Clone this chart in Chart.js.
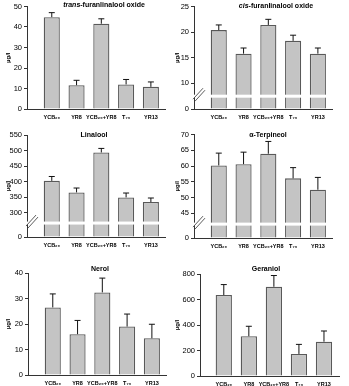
<!DOCTYPE html>
<html>
<head>
<meta charset="utf-8">
<script src="https://cdn.jsdelivr.net/npm/chart.js@4.4.1/dist/chart.umd.min.js"></script>
<style>
html, body { margin: 0; padding: 0; background: #fff; }
#wrap { position: relative; width: 349px; height: 386px; overflow: hidden; }
#wrap canvas { position: absolute; }
</style>
</head>
<body>
<div id="wrap"></div>
<script>
// categories (x axis)
const categories = ['YCB₂₀', 'YR8', 'YCB₂₀+YR8', 'T₇₃', 'YR13'];

// trans-furanlinalool oxide
const transValues = [44.8, 11.6, 41.6, 12.0, 10.8];
const transErrors = [2.2, 2.4, 2.4, 2.4, 2.4];
const transTicks = [0, 10, 20, 30, 40, 50];

// cis-furanlinalool oxide
const cisValues = [20.4, 15.8, 21.4, 18.3, 15.8];
const cisErrors = [1.0, 1.1, 1.1, 1.1, 1.1];
const cisTicks = [0, 10, 15, 20, 25];

// linalool
const linaloolValues = [403, 366, 494, 350, 335];
const linaloolErrors = [14, 14, 13, 14, 13];
const linaloolTicks = [0, 300, 350, 400, 450, 500, 550];

// alpha-terpineol
const terpineolValues = [60.2, 60.6, 63.9, 56.1, 52.5];
const terpineolErrors = [3.9, 3.8, 3.9, 3.4, 3.9];
const terpineolTicks = [0, 45, 50, 55, 60, 65, 70];

// nerol
const nerolValues = [26.5, 16.0, 32.4, 19.0, 14.4];
const nerolErrors = [5.3, 5.4, 5.6, 4.9, 5.5];
const nerolTicks = [0, 10, 20, 30, 40];

// geraniol
const geraniolValues = [635, 312, 700, 173, 269];
const geraniolErrors = [82, 78, 88, 75, 84];
const geraniolTicks = [0, 200, 400, 600, 800];

const FONT = 'Arial, "Liberation Sans", Helvetica, sans-serif';
const wrap = document.getElementById('wrap');

// broken axes: values above the break are shifted down by `shift`
function toAxis(v, shift) { return (shift && v !== 0) ? v - shift : v; }
function fromAxis(t, shift) { return (shift && t !== 0) ? Math.round((t + shift) * 100) / 100 : t; }

const panelPlugin = {
    id: 'panelExtras',
    afterDatasetsDraw(chart) {
        const p = chart.options.plugins.panelExtras;
        const ctx = chart.ctx;
        const ys = chart.scales.y;
        const area = chart.chartArea;
        const meta = chart.getDatasetMeta(0);

        // white break band and // marks
        if (p.shift) {
            const yb = ys.getPixelForValue(p.band);
            ctx.save();
            ctx.fillStyle = '#fff';
            ctx.fillRect(area.left - 1, yb - 1.5, area.right - area.left + 1, 3);
            ctx.strokeStyle = '#333';
            ctx.lineWidth = 0.8;
            ctx.beginPath();
            ctx.moveTo(area.left - 1, yb + 3);
            ctx.lineTo(area.left + 9, yb - 8);
            ctx.moveTo(area.left + 1, yb + 5);
            ctx.lineTo(area.left + 11, yb - 6);
            ctx.stroke();
            ctx.restore();
        }

        // upper error bars
        ctx.save();
        ctx.strokeStyle = '#111';
        ctx.lineWidth = 1;
        meta.data.forEach((bar, i) => {
            const v = p.values[i] + p.errors[i];
            const yTop = ys.getPixelForValue(toAxis(v, p.shift));
            ctx.beginPath();
            ctx.moveTo(bar.x, bar.y);
            ctx.lineTo(bar.x, yTop);
            ctx.moveTo(bar.x - 3, yTop);
            ctx.lineTo(bar.x + 3, yTop);
            ctx.stroke();
        });
        ctx.restore();

        // title (first part italic)
        ctx.save();
        ctx.fillStyle = '#000';
        ctx.textBaseline = 'middle';
        const fItal = 'italic bold 7px ' + FONT;
        const fBold = 'bold 7px ' + FONT;
        ctx.font = fItal;
        const w1 = ctx.measureText(p.titleItalic).width;
        ctx.font = fBold;
        const w2 = ctx.measureText(p.title).width;
        let x = p.titleX - (w1 + w2) / 2;
        const y = area.top + p.titleDy;
        ctx.textAlign = 'left';
        if (p.titleItalic) {
            ctx.font = fItal;
            ctx.fillText(p.titleItalic, x, y);
            x += w1;
        }
        ctx.font = fBold;
        ctx.fillText(p.title, x, y);
        ctx.restore();
    }
};

function makePanel(def) {
    const cns = document.createElement('canvas');
    cns.width = def.w;
    cns.height = def.h;
    cns.style.left = def.x + 'px';
    cns.style.top = def.y + 'px';
    wrap.appendChild(cns);
    const shift = def.shift || 0;
    const tickVals = def.ticks.map(v => toAxis(v, shift));

    new Chart(cns.getContext('2d'), {
        type: 'bar',
        data: {
            datasets: [{
                data: def.values.map((v, i) => ({ x: i + 1, y: toAxis(v, shift) })),
                backgroundColor: '#c4c4c4',
                borderColor: '#595959',
                borderWidth: 1.3,
                barPercentage: 0.65,
                categoryPercentage: 1
            }]
        },
        options: {
            responsive: false,
            animation: false,
            devicePixelRatio: 1,
            layout: { padding: { left: 0, top: def.area.top, right: def.w - def.area.right, bottom: 0 } },
            plugins: {
                legend: { display: false },
                tooltip: { enabled: false },
                title: { display: false },
                panelExtras: {
                    values: def.values, errors: def.errors, shift: shift, band: def.band,
                    title: def.title, titleItalic: def.titleItalic || '',
                    titleX: def.titleX, titleDy: def.titleDy
                }
            },
            scales: {
                x: {
                    type: 'linear',
                    offset: false,
                    min: def.xMin, max: def.xMax,
                    grid: { display: false, drawTicks: false, offset: false },
                    border: { display: true, color: '#333', width: 1 },
                    ticks: {
                        autoSkip: false, maxRotation: 0, minRotation: 0, padding: 5,
                        color: '#000',
                        font: { family: FONT, size: 5.5, weight: 'bold' },
                        callback: v => categories[Math.round(v) - 1]
                    },
                    afterBuildTicks: s => { s.ticks = categories.map((c, i) => ({ value: i + 1 })); },
                    afterFit: s => { s.height = def.h - def.area.bottom; }
                },
                y: {
                    min: tickVals[0], max: tickVals[tickVals.length - 1],
                    grid: { display: true, drawOnChartArea: false, drawTicks: true, tickLength: 3, color: '#333' },
                    border: { display: true, color: '#333', width: 1 },
                    ticks: {
                        padding: 2, color: '#000',
                        font: { family: FONT, size: 7.5 },
                        callback: v => String(fromAxis(v, shift))
                    },
                    afterBuildTicks: s => { s.ticks = tickVals.map(v => ({ value: v })); },
                    title: {
                        display: true, text: 'µg/l', color: '#000',
                        font: { family: FONT, size: 6, weight: 'bold' },
                        padding: { top: def.labelPad, bottom: 0 }
                    },
                    afterFit: s => { s.width = def.area.left; }
                }
            }
        },
        plugins: [panelPlugin]
    });
}

makePanel({
    x: 0, y: 0, w: 174, h: 128, area: { left: 27, top: 6, right: 165, bottom: 109 },
    xMin: 0, xMax: 5.57, values: transValues, errors: transErrors, ticks: transTicks,
    titleItalic: 'trans', title: '-furanlinalool oxide', titleX: 104, titleDy: -1.5, labelPad: 4.5
});
makePanel({
    x: 174, y: 0, w: 175, h: 128, area: { left: 20, top: 5, right: 158, bottom: 109 },
    xMin: 0, xMax: 5.57, values: cisValues, errors: cisErrors, ticks: cisTicks,
    shift: 5, band: 2.5,
    titleItalic: 'cis', title: '-furanlinalool oxide', titleX: 102, titleDy: 0, labelPad: 0
});
makePanel({
    x: 0, y: 128, w: 174, h: 128, area: { left: 27, top: 7, right: 165, bottom: 109 },
    xMin: 0, xMax: 5.57, values: linaloolValues, errors: linaloolErrors, ticks: linaloolTicks,
    shift: 223, band: 44.7,
    title: 'Linalool', titleX: 94, titleDy: 0, labelPad: 4.5
});
makePanel({
    x: 174, y: 128, w: 175, h: 128, area: { left: 20, top: 6, right: 158, bottom: 110 },
    xMin: 0, xMax: 5.57, values: terpineolValues, errors: terpineolErrors, ticks: terpineolTicks,
    shift: 37.2, band: 4.4,
    title: 'α-Terpineol', titleX: 94, titleDy: 1, labelPad: 0
});
makePanel({
    x: 0, y: 256, w: 174, h: 130, area: { left: 28, top: 17, right: 166, bottom: 119 },
    xMin: 0, xMax: 5.57, values: nerolValues, errors: nerolErrors, ticks: nerolTicks,
    title: 'Nerol', titleX: 100, titleDy: -4, labelPad: 4.5
});
makePanel({
    x: 174, y: 256, w: 175, h: 130, area: { left: 26, top: 18, right: 165, bottom: 120 },
    xMin: 0.05, xMax: 5.6, values: geraniolValues, errors: geraniolErrors, ticks: geraniolTicks,
    title: 'Geraniol', titleX: 92, titleDy: -5, labelPad: 0
});
</script>
</body>
</html>
